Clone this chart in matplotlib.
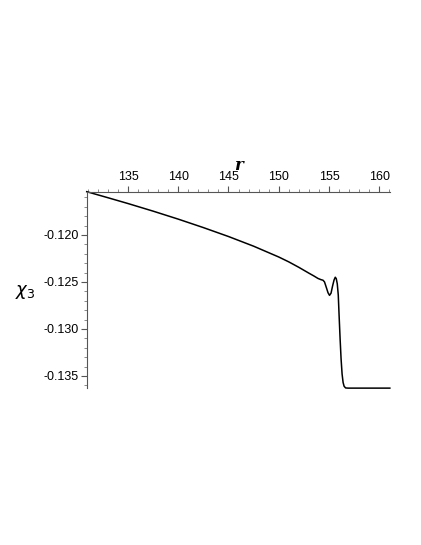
import matplotlib
matplotlib.use('Agg')
import matplotlib.pyplot as plt
from matplotlib.ticker import MultipleLocator

# r values and chi_3 readings
r = [130.9, 133.0, 135.0, 137.5, 140.0, 142.5, 145.0, 147.5, 150.0, 151.0,
     152.0, 153.0, 153.5, 153.9, 154.2, 154.4, 154.55, 154.75, 154.9, 155.05,
     155.2, 155.35, 155.5, 155.62, 155.72, 155.82, 155.92, 156.0, 156.1, 156.2,
     156.3, 156.4, 156.5, 156.65, 156.9, 161.05]
chi3 = [-0.11540, -0.11604, -0.11666, -0.11747, -0.11832, -0.11922, -0.12017,
        -0.12120, -0.12235, -0.12287, -0.12345, -0.12407, -0.12437, -0.12463,
        -0.12476, -0.12482, -0.12500, -0.12565, -0.12615, -0.12643, -0.12620,
        -0.12545, -0.12480, -0.12450, -0.12465, -0.12520, -0.12640, -0.12850,
        -0.13100, -0.13320, -0.13480, -0.13570, -0.13610, -0.13628, -0.13630,
        -0.13630]

x_ticks = [135, 140, 145, 150, 155, 160]
y_ticks = [-0.120, -0.125, -0.130, -0.135]

plt.rcParams['font.family'] = ['Liberation Sans', 'DejaVu Sans']

fig = plt.figure(figsize=(4.21, 5.45), dpi=100)
ax = fig.add_axes([0.206, 0.2875, 0.720, 0.3608])
ax.plot(r, chi3, color='black', lw=1.1, clip_on=False)

ax.set_xlim(130.9, 161.05)
ax.set_ylim(-0.13632, -0.1154)

ax.spines['right'].set_visible(False)
ax.spines['bottom'].set_visible(False)
for s in ('top', 'left'):
    ax.spines[s].set_color('#555555')
    ax.spines[s].set_linewidth(0.8)

ax.xaxis.tick_top()
ax.xaxis.set_label_position('top')
ax.set_xticks(x_ticks)
ax.xaxis.set_minor_locator(MultipleLocator(1))
ax.set_yticks(y_ticks)
ax.yaxis.set_minor_locator(MultipleLocator(0.001))
ax.set_yticklabels(['-%.3f' % abs(v) for v in y_ticks])

ax.tick_params(which='major', length=4, width=0.8, color='#555555',
               labelsize=9, pad=2)
ax.tick_params(which='minor', length=2.5, width=0.6, color='#777777')

ax.set_xlabel('r', fontsize=12, fontweight='bold', style='italic',
              family='DejaVu Serif', labelpad=1)
fig.text(0.059, 0.465, r'$\chi_{3}$', fontsize=13, ha='center', va='center')

fig.savefig('out.png', dpi=100)
